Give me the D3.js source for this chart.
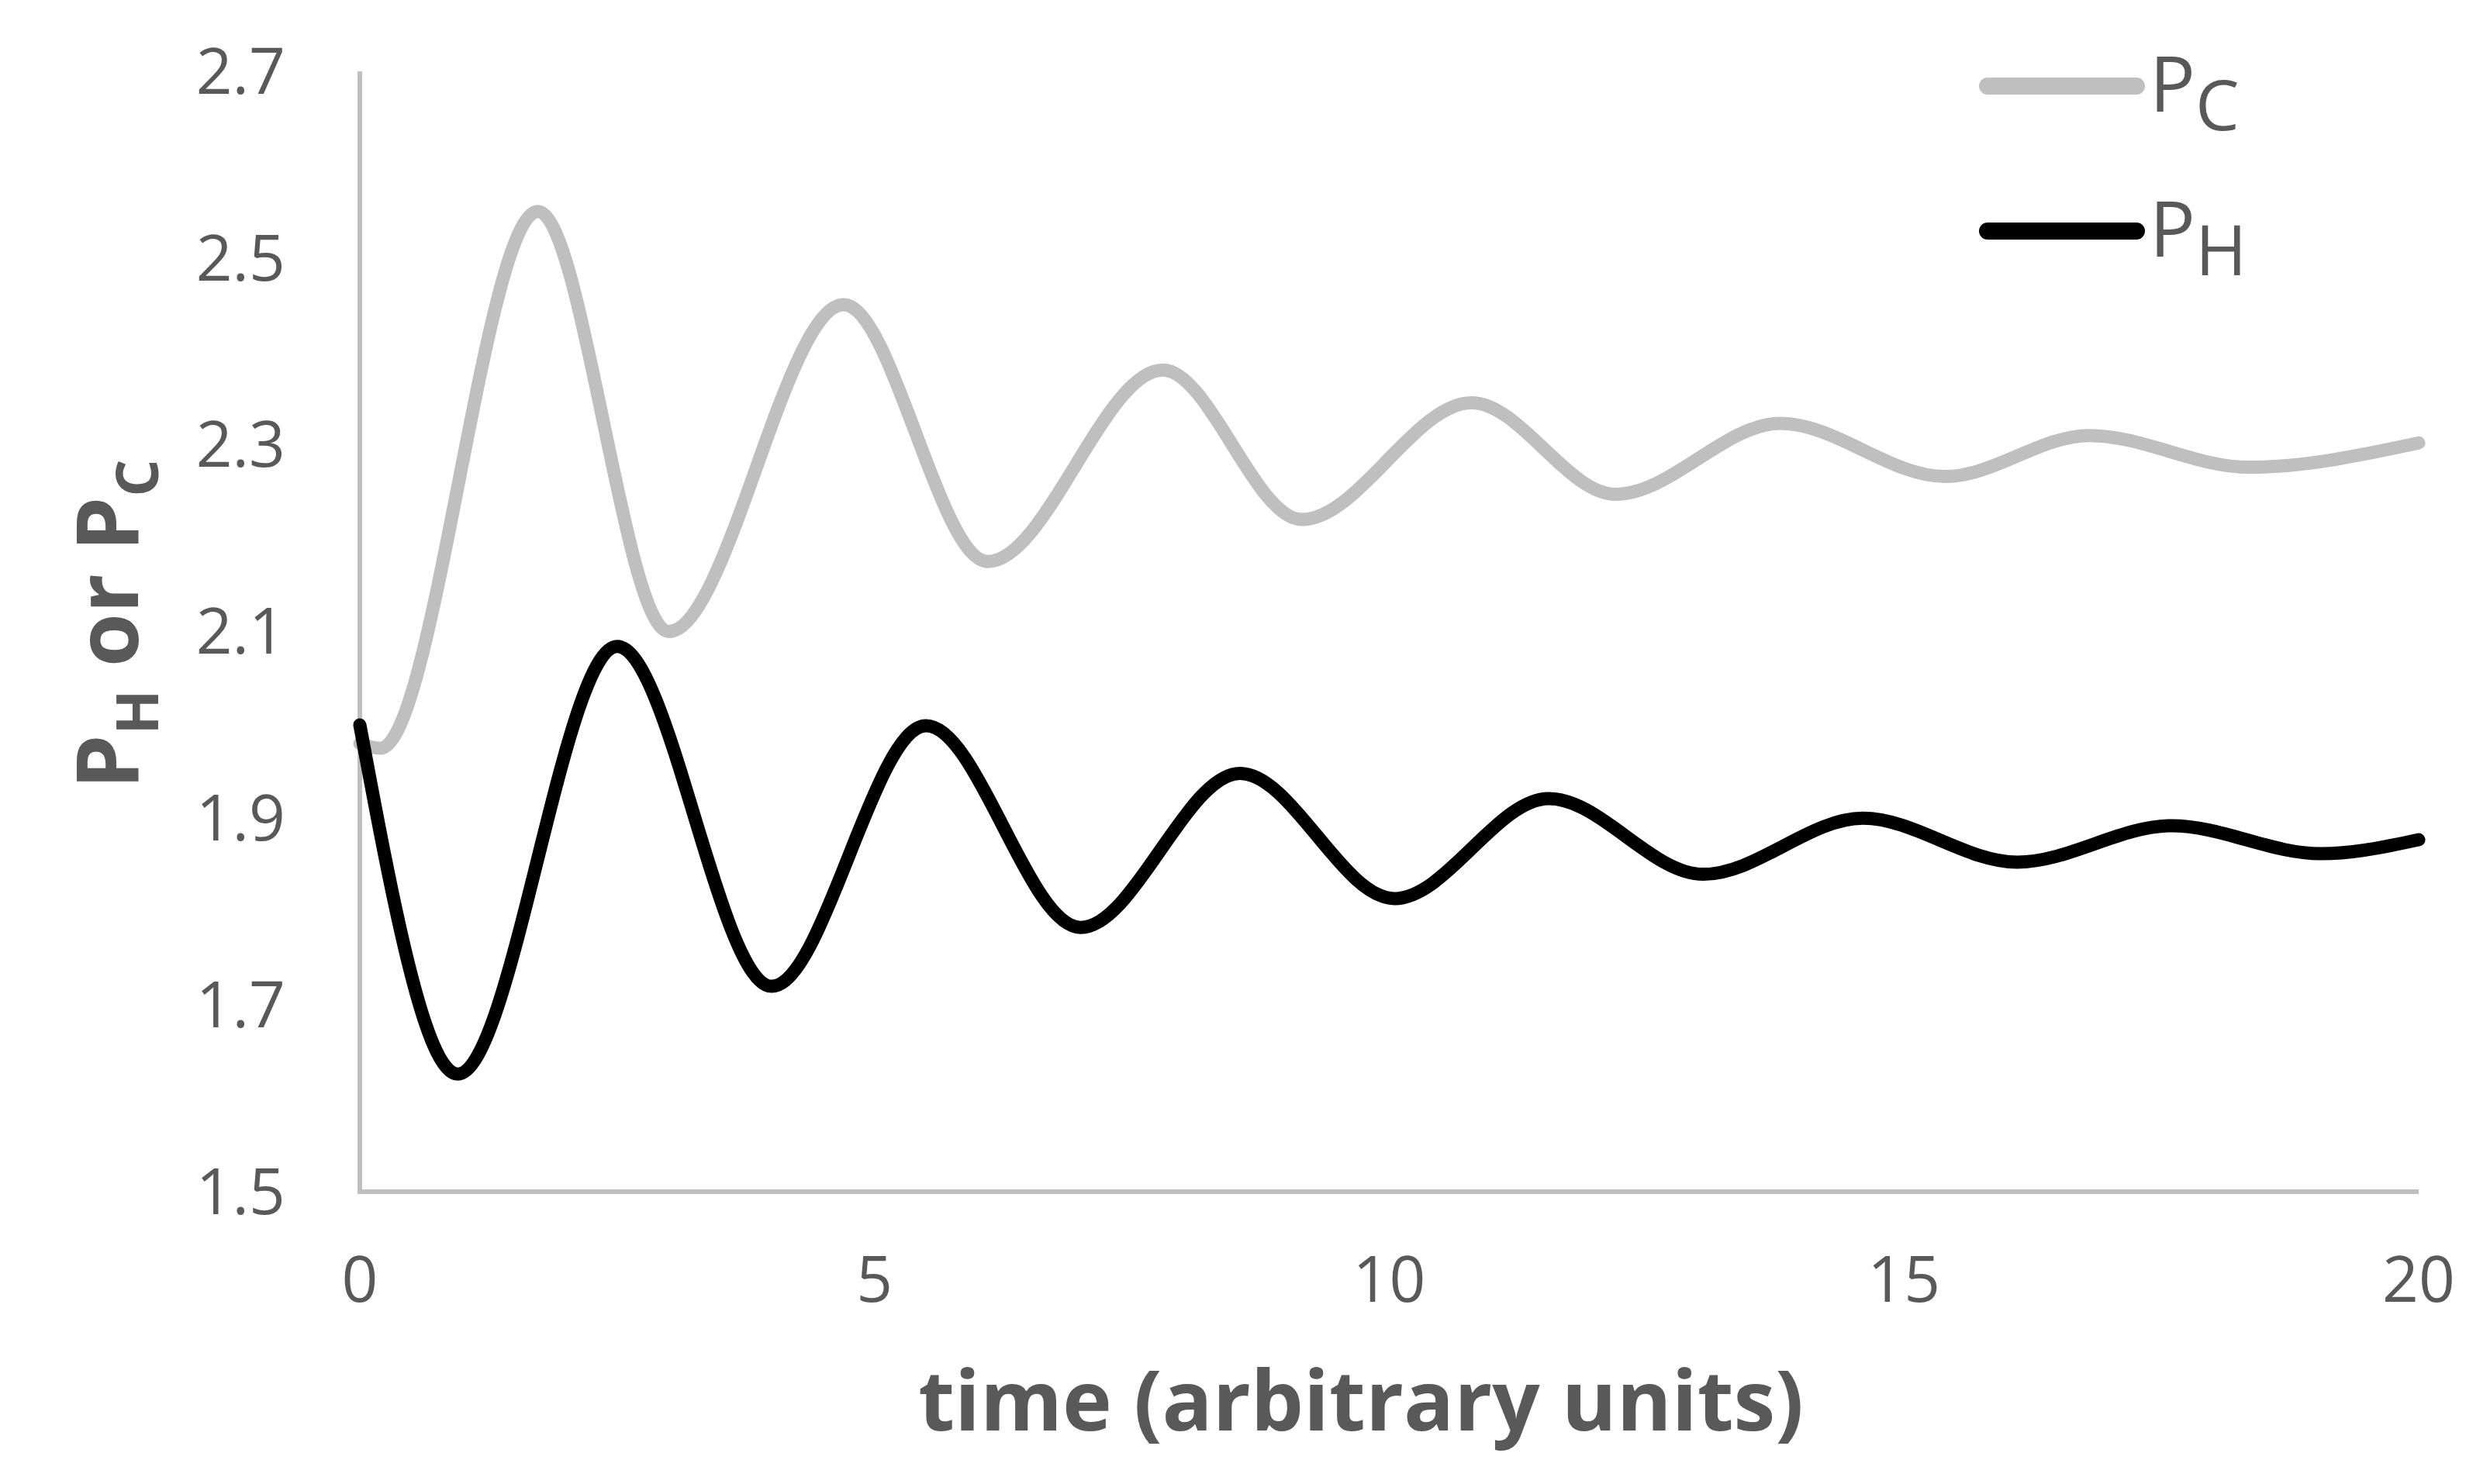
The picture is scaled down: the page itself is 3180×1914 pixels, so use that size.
<!DOCTYPE html>
<html>
<head>
<meta charset="utf-8">
<script src="https://cdn.jsdelivr.net/npm/d3@7"></script>
<style>
  body { margin: 0; background: #fff; }
  text { font-family: "Liberation Sans Narrow", "Open Sans", sans-serif; fill: #595959; }
</style>
</head>
<body>
<svg id="chart" width="3180" height="1914"></svg>
<script>
// values (turning points of each curve)
var timePC = [0, 0.2, 1.73, 3.0, 4.7, 6.1, 7.8, 9.15, 10.8, 12.2, 13.8, 15.4, 16.8, 18.35, 20];
var valuesPC = [1.98, 1.975, 2.55, 2.10, 2.45, 2.175, 2.38, 2.22, 2.345, 2.247, 2.323, 2.266, 2.31, 2.276, 2.302];
var timePH = [0, 0.95, 2.5, 4.0, 5.5, 7.0, 8.55, 10.05, 11.55, 13.05, 14.6, 16.1, 17.6, 19.05, 20];
var valuesPH = [2.0, 1.626, 2.084, 1.72, 1.999, 1.783, 1.948, 1.814, 1.921, 1.84, 1.90, 1.853, 1.892, 1.862, 1.877];
var xTicks = [0, 5, 10, 15, 20];
var yTicks = [1.5, 1.7, 1.9, 2.1, 2.3, 2.5, 2.7];

var svg = d3.select("#chart");
// plot edges (not "top": that name is taken by window.top)
var plotLeft = 464, plotRight = 3119, plotTop = 92, plotBottom = 1537;

var x = d3.scaleLinear().domain([0, 20]).range([plotLeft, plotRight]);
var y = d3.scaleLinear().domain([1.5, 2.7]).range([plotBottom, plotTop]);

// axes lines
svg.append("line").attr("x1", plotLeft).attr("x2", plotLeft).attr("y1", plotTop).attr("y2", plotBottom)
  .attr("stroke", "#bfbfbf").attr("stroke-width", 6);
svg.append("line").attr("x1", plotLeft - 3).attr("x2", plotRight).attr("y1", plotBottom).attr("y2", plotBottom)
  .attr("stroke", "#bfbfbf").attr("stroke-width", 6);

// tick labels
svg.selectAll(".yt").data(yTicks).enter().append("text")
  .attr("x", 368).attr("y", d => y(d)).attr("dy", "0.35em")
  .attr("text-anchor", "end").attr("font-size", 82).text(d => d.toFixed(1));
svg.selectAll(".xt").data(xTicks).enter().append("text")
  .attr("x", d => x(d)).attr("y", 1679)
  .attr("text-anchor", "middle").attr("font-size", 82).text(d => d);

// axis titles
svg.append("text").attr("x", 1755).attr("y", 1845).attr("text-anchor", "middle")
  .attr("font-size", 108).attr("font-weight", "bold").text("time (arbitrary units)");

var yl = svg.append("text").attr("transform", "translate(178,805) rotate(-90)")
  .attr("text-anchor", "middle").attr("font-size", 112).attr("font-weight", "bold");
yl.append("tspan").text("P");
yl.append("tspan").attr("dy", 26).attr("font-size", 76).text("H");
yl.append("tspan").attr("dy", -26).text(" or  P");
yl.append("tspan").attr("dy", 26).attr("font-size", 76).text("C");

// series
var line = d3.line().x(d => x(d[0])).y(d => y(d[1])).curve(d3.curveMonotoneX);
var series = [
  { name: "C", t: timePC, v: valuesPC, color: "#bfbfbf" },
  { name: "H", t: timePH, v: valuesPH, color: "#000000" }
];
series.forEach(function(s) {
  svg.append("path").datum(d3.zip(s.t, s.v)).attr("d", line)
    .attr("fill", "none").attr("stroke", s.color).attr("stroke-width", 17)
    .attr("stroke-linecap", "round").attr("stroke-linejoin", "round");
});

// legend
series.forEach(function(s, i) {
  var ly = 111 + i * 187;
  svg.append("line").attr("x1", 2563).attr("x2", 2755).attr("y1", ly).attr("y2", ly)
    .attr("stroke", s.color).attr("stroke-width", 22).attr("stroke-linecap", "round");
  var t = svg.append("text").attr("x", 2772).attr("y", ly + 33).attr("font-size", 98);
  t.append("tspan").text("P");
  t.append("tspan").attr("dy", 24).attr("font-size", 90).text(s.name);
});
</script>
</body>
</html>
